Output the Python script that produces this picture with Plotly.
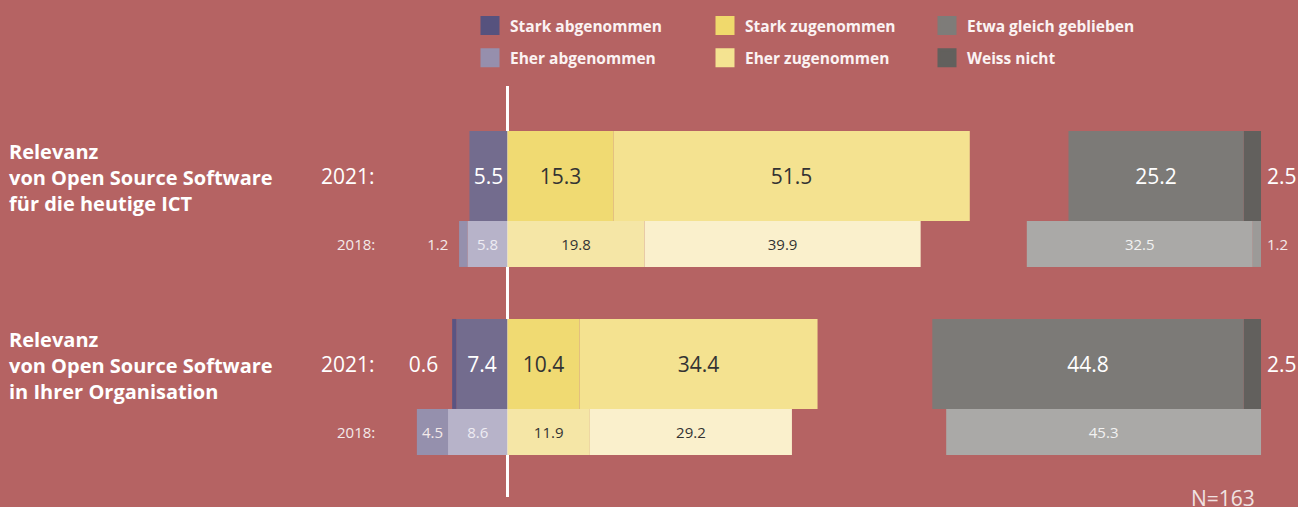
import plotly.graph_objects as go

rows = ["ICT 2021", "ICT 2018", "Org 2021", "Org 2018"]
row_years = ["2021:", "2018:", "2021:", "2018:"]
is_new = [True, False, True, False]
groups = ["Relevanz<br>von Open Source Software<br>für die heutige ICT",
          "Relevanz<br>von Open Source Software<br>in Ihrer Organisation"]

stark_ab = [0, 1.2, 0.6, 4.5]
eher_ab = [5.5, 5.8, 7.4, 8.6]
stark_zu = [15.3, 19.8, 10.4, 11.9]
eher_zu = [51.5, 39.9, 34.4, 29.2]
gleich = [25.2, 32.5, 44.8, 45.3]
weiss = [2.5, 1.2, 2.5, 0]
n_total = 163

BG = "#b56363"
FONT = "Open Sans"
LIGHT = "#f4eaea"
DARK = "#333333"

sizes = [21 if n else 15 for n in is_new]
widths = [0.957 if n else 0.489 for n in is_new]
offsets = [-0.479 if n else -0.521 for n in is_new]


def per_year(a, b):
    return [a if n else b for n in is_new]


def bar(vals, sign, c21, c18, t21, t18, xaxis="x", textpos=None, show_text=True):
    txt = [f"{v:.1f}" if (v and show_text) else "" for v in vals]
    if textpos is None:
        textpos = ["inside"] * len(vals)
    return go.Bar(
        y=rows, x=[sign * v for v in vals], orientation="h", xaxis=xaxis,
        width=widths, offset=offsets,
        marker=dict(color=per_year(c21, c18), line=dict(width=0)),
        text=txt, textposition=textpos, insidetextanchor="middle",
        textfont=dict(family=FONT, size=sizes, color=per_year(t21, t18)),
        constraintext="none", showlegend=False, hoverinfo="skip",
    )


fig = go.Figure()
fig.add_trace(bar(eher_ab, -1, "#736c8e", "#b7b3c9", "#ffffff", "#eeecf3"))
# small values sit outside the bar, with a little extra gap
stark_ab_txt = [(f"{v:.1f}\u00a0\u00a0" if v < 2 else f"{v:.1f}") for v in stark_ab]
t = bar(stark_ab, -1, "#5a5482", "#9590ad", "#ffffff", LIGHT,
        textpos=["inside" if v >= 2 else "outside" for v in stark_ab])
t.text = [s if v else "" for s, v in zip(stark_ab_txt, stark_ab)]
fig.add_trace(t)
fig.add_trace(bar(stark_zu, 1, "#f0da72", "#f5e6a6", DARK, DARK))
fig.add_trace(bar(eher_zu, 1, "#f4e290", "#faf0cc", DARK, DARK))
fig.add_trace(bar(weiss, 1, "#62605d", "#9c9a98", "#ffffff", LIGHT, xaxis="x2", show_text=False))
fig.add_trace(bar(gleich, 1, "#7c7a77", "#aaa9a7", "#ffffff", "#f2f2f2", xaxis="x2"))

legend_items = [
    ("Stark abgenommen", "#56527e", "legend"),
    ("Eher abgenommen", "#968fad", "legend"),
    ("Stark zugenommen", "#f0d96c", "legend2"),
    ("Eher zugenommen", "#f4e391", "legend2"),
    ("Etwa gleich geblieben", "#7e7c79", "legend3"),
    ("Weiss nicht", "#62605d", "legend3"),
]
for name, c, lg in legend_items:
    fig.add_trace(go.Scatter(
        x=[None], y=[None], mode="markers", name=name, legend=lg, legendgroup=name,
        marker=dict(symbol="square", size=16, color=c, line=dict(color=c, width=3)),
    ))

legend_style = dict(
    xref="container", yref="container", xanchor="left", yanchor="top", y=1 - 9 / 507,
    font=dict(family=FONT, size=15.5, color="#fbf3f3", weight="bold"),
    bgcolor="rgba(0,0,0,0)", tracegroupgap=9, itemclick=False, itemdoubleclick=False,
)

annotations = []
for g, r in zip(groups, [rows[0], rows[2]]):
    annotations.append(dict(
        text=g, x=7 / 1298, xref="paper", xanchor="left", y=r, yref="y",
        yanchor="middle", align="left", showarrow=False, yshift=-2,
        font=dict(family=FONT, size=20, color="#ffffff", weight="bold"),
    ))
for r, yl, n in zip(rows, row_years, is_new):
    annotations.append(dict(
        text=yl, x=377 / 1298, xref="paper", xanchor="right", y=r, yref="y",
        yshift=0 if n else 26, showarrow=False,
        font=dict(family=FONT, size=21 if n else 15, color="#ffffff" if n else LIGHT),
    ))
for r, v, n in zip(rows, weiss, is_new):
    if v:
        annotations.append(dict(
            text=f"{v:.1f}", x=0, xref="x2", xanchor="left", xshift=4, y=r, yref="y",
            yshift=0 if n else 26, showarrow=False,
            font=dict(family=FONT, size=21 if n else 15, color="#ffffff" if n else LIGHT),
        ))
annotations.append(dict(
    text=f"N={n_total}", x=1257 / 1298, xref="paper", xanchor="right", y=0, yref="paper",
    yanchor="top", yshift=15, showarrow=False,
    font=dict(family=FONT, size=21, color="#f0e2e2"),
))

fig.update_layout(
    width=1298, height=507, barmode="relative",
    paper_bgcolor=BG, plot_bgcolor=BG,
    margin=dict(l=0, r=0, t=86, b=10, autoexpand=False),
    font=dict(family=FONT),
    xaxis=dict(range=[-73.34, 114.23], showgrid=False, showticklabels=False, ticks="",
               zeroline=True, zerolinecolor="#ffffff", zerolinewidth=2.5,
               showline=False, layer="above traces", fixedrange=True),
    xaxis2=dict(overlaying="x", anchor="y", range=[181.44, -5.32], showgrid=False,
                showticklabels=False, zeroline=False, showline=False, fixedrange=True),
    yaxis=dict(type="category", categoryorder="array", categoryarray=rows,
               range=[3.415, -0.957], showgrid=False, showticklabels=False,
               zeroline=False, showline=False, fixedrange=True),
    legend=dict(x=470 / 1298, **legend_style),
    legend2=dict(x=705 / 1298, **legend_style),
    legend3=dict(x=927 / 1298, **legend_style),
    annotations=annotations,
)

fig.write_html("out.html", config={"displayModeBar": False},
               post_script="document.body.style.margin = '0';")
